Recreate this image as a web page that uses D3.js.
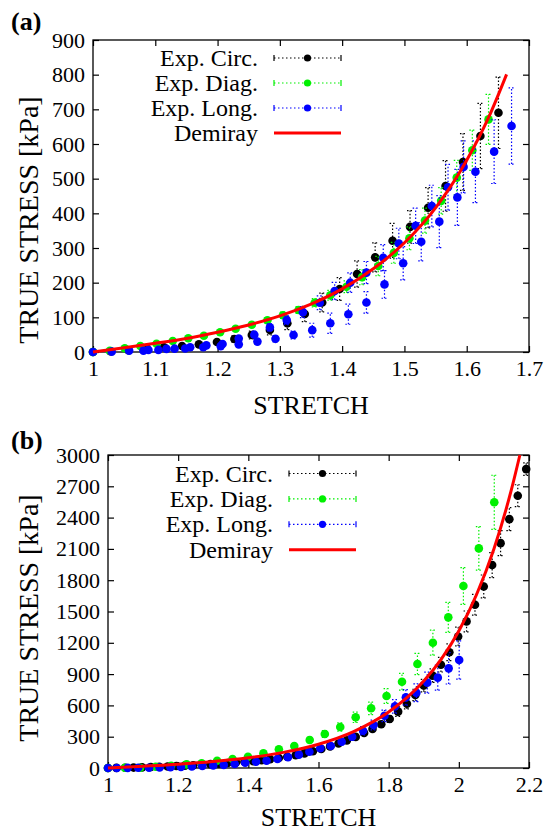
<!DOCTYPE html>
<html>
<head>
<meta charset="utf-8">
<script src="https://cdn.jsdelivr.net/npm/d3@7"></script>
<style>
  body { margin: 0; background: #fff; }
  text { font-family: "Liberation Serif", "Times New Roman", "DejaVu Serif", serif; }
</style>
</head>
<body>
<svg id="chart" width="546" height="832"></svg>
<script>
// ---- data: [stretch, stress kPa, error kPa] ----
const seriesNames = ["Exp. Circ.", "Exp. Diag.", "Exp. Long.", "Demiray"];
const seriesColors = ["#000000", "#00f000", "#0000ff", "#ff0000"];

// panel (a)
const circA = [[1.000,0,1],[1.028,2,1],[1.057,5,2],[1.086,10.7,3],[1.114,13.5,4],[1.143,17.3,5],
  [1.170,22,6],[1.199,29,7],[1.227,37.5,9],[1.255,49,11],[1.284,63.5,14],[1.312,82.7,18],
  [1.340,109.6,22],[1.368,143,27],[1.396,181.7,33],[1.424,225,38],[1.453,273,42],[1.481,321,50],
  [1.509,361,47],[1.538,416,58],[1.566,479,73],[1.594,548,82],[1.622,623,94],[1.651,690,103]];
const diagA = [[1.000,0,0],[1.027,3.7,1],[1.051,10.7,1],[1.076,17.3,2],[1.102,24,2],[1.128,31.7,3],
  [1.153,39.5,4],[1.178,47,5],[1.204,56.8,5],[1.229,67.2,6],[1.255,78.7,7],[1.280,91.4,8],
  [1.305,105.9,9],[1.330,121,10],[1.356,142,12],[1.381,163.5,14],[1.407,188,17],[1.432,216,22],
  [1.458,248,28],[1.483,286,30],[1.508,328,33],[1.533,379,36],[1.559,436,38],[1.584,503,50],
  [1.609,582,58],[1.635,671,72]];
const longA = [[1.000,0,1],[1.030,1,1],[1.058,4,2],[1.089,6,2],[1.118,9,3],[1.148,10,3],
  [1.177,13.5,4],[1.205,17,5],[1.234,22,6],[1.264,30,7],[1.293,38,9],[1.322,49,11],
  [1.352,63,20],[1.381,83,29],[1.410,109,29],[1.439,143,31],[1.468,195,40],[1.498,256,48],
  [1.527,318,55],[1.556,376,75],[1.585,446,81],[1.614,520,89],[1.644,578,92],[1.672,652,110],
  [1.081,4,1],[1.105,6,2],[1.131,9.6,2],[1.156,13.5,3],[1.182,19,4],[1.208,23,5],
  [1.234,39,6],[1.259,50,8],[1.284,71,10],[1.311,92,13],[1.337,115,16],[1.364,142,20],
  [1.388,176,25],[1.413,200,28],[1.439,229,32],[1.466,272,38],[1.491,313,44],[1.518,364,51],
  [1.544,421,60],[1.570,475,66],[1.595,534,75]];
const demirayA = [[1.0,0],[1.05,12],[1.1,25],[1.15,39],[1.2,57],[1.25,78],[1.3,104],[1.35,138],
  [1.4,182],[1.45,240],[1.5,315],[1.55,416],[1.6,553],[1.635,676],[1.664,801]];

// panel (b)
const circB = [[1.000,0,1],[1.024,1,1],[1.049,2,1],[1.073,4,1],[1.097,6,2],[1.122,9,2],
  [1.146,12,2],[1.170,15,2],[1.195,19,3],[1.219,23,3],[1.243,27,3],[1.268,32,4],[1.292,37,4],
  [1.316,42,4],[1.341,48,5],[1.365,54,5],[1.389,60,5],[1.414,66,6],[1.438,75,6],[1.462,85,7],
  [1.487,96,8],[1.511,108,8],[1.535,122,9],[1.560,140,10],[1.584,160,11],[1.608,182,12],
  [1.633,207,13],[1.657,235,15],[1.681,265,16],[1.706,298,18],[1.730,335,20],[1.754,375,22],
  [1.779,420,26],[1.803,470,32],[1.827,540,45],[1.852,616,50],[1.876,700,55],[1.900,790,60],
  [1.925,885,65],[1.949,990,70],[1.973,1110,80],[1.998,1260,90],[2.022,1405,100],[2.046,1565,100],
  [2.071,1740,110],[2.095,1945,120],[2.119,2155,120],[2.144,2385,110],[2.168,2610,105],[2.192,2865,60]];
const diagB = [[1.000,0,0],[1.048,2,1],[1.092,3,1],[1.136,12,2],[1.180,22,3],[1.224,35,4],
  [1.267,45,5],[1.311,70,7],[1.355,86,9],[1.399,108,11],[1.443,141,14],[1.487,179,18],
  [1.531,211,21],[1.575,268,26],[1.618,326,32],[1.662,393,40],[1.706,486,50],[1.750,572,60],
  [1.794,690,70],[1.838,827,80],[1.882,997,102],[1.926,1201,120],[1.970,1444,144],
  [2.013,1745,176],[2.057,2105,208],[2.101,2547,259]];
const longB = [[1.000,0,0],[1.025,0,1],[1.056,1,1],[1.086,2,1],[1.117,3,1],[1.147,5,1],
  [1.178,7,2],[1.208,10,2],[1.239,14,2],[1.269,19,3],[1.300,24,3],[1.330,29,4],[1.361,38,5],
  [1.391,51,6],[1.422,60,7],[1.452,70,8],[1.483,86,10],[1.513,103,12],[1.544,128,14],
  [1.574,156,16],[1.605,189,20],[1.635,211,24],[1.666,252,28],[1.696,300,34],[1.727,357,40],
  [1.757,412,46],[1.788,500,55],[1.818,591,65],[1.849,677,75],[1.879,722,85],[1.910,818,100],
  [1.940,866,120],[1.971,955,150],[2.001,1035,184]];
const demirayB = [[1,0],[1.1,17],[1.2,36],[1.3,62],[1.4,98],[1.5,150],[1.6,228],[1.7,349],
  [1.8,536],[1.9,833],[1.95,1044],[2.0,1313],[2.05,1658],[2.1,2099],[2.15,2670],[2.174,3000]];

const xTicksA = [1, 1.1, 1.2, 1.3, 1.4, 1.5, 1.6, 1.7];
const yTicksA = [0, 100, 200, 300, 400, 500, 600, 700, 800, 900];
const xTicksB = [1, 1.2, 1.4, 1.6, 1.8, 2, 2.2];
const yTicksB = [0, 300, 600, 900, 1200, 1500, 1800, 2100, 2400, 2700, 3000];

const svg = d3.select("#chart");

function panel(p) {
  const g = svg.append("g");
  const x = d3.scaleLinear().domain(p.xDomain).range([p.left, p.right]);
  const y = d3.scaleLinear().domain(p.yDomain).range([p.bottom, p.top]);

  const styleAxis = a => {
    a.select(".domain").remove();
    a.attr("font-family", null);
    a.selectAll("line").attr("stroke", "#000").attr("stroke-width", 1.2);
    a.selectAll("text").attr("font-size", 22).attr("fill", "#000");
  };

  g.append("g").attr("transform", `translate(0,${p.bottom})`)
    .call(d3.axisBottom(x).tickValues(p.xTicks).tickSizeInner(-6).tickSizeOuter(0).tickPadding(8).tickFormat(d => d))
    .call(styleAxis);
  g.append("g").attr("transform", `translate(0,${p.top})`)
    .call(d3.axisTop(x).tickValues(p.xTicks).tickSizeInner(-6).tickSizeOuter(0).tickFormat(""))
    .call(styleAxis);
  g.append("g").attr("transform", `translate(${p.left},0)`)
    .call(d3.axisLeft(y).tickValues(p.yTicks).tickSizeInner(-6).tickSizeOuter(0).tickPadding(8).tickFormat(d => d))
    .call(styleAxis);
  g.append("g").attr("transform", `translate(${p.right},0)`)
    .call(d3.axisRight(y).tickValues(p.yTicks).tickSizeInner(-6).tickSizeOuter(0).tickFormat(""))
    .call(styleAxis);

  g.append("rect")
    .attr("x", p.left).attr("y", p.top)
    .attr("width", p.right - p.left).attr("height", p.bottom - p.top)
    .attr("fill", "none").attr("stroke", "#000").attr("stroke-width", 1.3);

  // experimental series with error bars
  p.series.forEach((data, i) => {
    const c = seriesColors[i];
    const eb = g.append("g").attr("stroke", c).attr("stroke-width", 1.2).attr("stroke-dasharray", "1.5,2");
    data.forEach(d => {
      const px = x(d[0]), y0 = y(d[1] - d[2]), y1 = y(d[1] + d[2]);
      eb.append("line").attr("x1", px).attr("x2", px).attr("y1", y0).attr("y2", y1);
      eb.append("line").attr("x1", px - 3).attr("x2", px + 3).attr("y1", y0).attr("y2", y0);
      eb.append("line").attr("x1", px - 3).attr("x2", px + 3).attr("y1", y1).attr("y2", y1);
    });
    g.append("g").selectAll("circle").data(data).join("circle")
      .attr("cx", d => x(d[0])).attr("cy", d => y(d[1])).attr("r", 4.3).attr("fill", c);
  });

  const line = d3.line().x(d => x(d[0])).y(d => y(d[1])).curve(d3.curveMonotoneX);
  g.append("path").datum(p.model).attr("d", line)
    .attr("fill", "none").attr("stroke", seriesColors[3]).attr("stroke-width", 3);

  // legend
  const L = p.legend;
  seriesNames.forEach((name, i) => {
    const yy = L.y + i * L.dy;
    g.append("text").attr("x", L.textX).attr("y", yy + 8).attr("text-anchor", "end")
      .attr("font-size", 24).text(name);
    const c = seriesColors[i];
    if (i < 3) {
      g.append("line").attr("x1", L.x0).attr("x2", L.x1).attr("y1", yy).attr("y2", yy)
        .attr("stroke", c).attr("stroke-width", 1.2).attr("stroke-dasharray", "1.5,2.5");
      [L.x0, L.x1].forEach(xe => g.append("line").attr("x1", xe).attr("x2", xe)
        .attr("y1", yy - 3).attr("y2", yy + 3).attr("stroke", c).attr("stroke-width", 1.2));
      g.append("circle").attr("cx", (L.x0 + L.x1) / 2).attr("cy", yy).attr("r", 3.6).attr("fill", c);
    } else {
      g.append("line").attr("x1", L.x0).attr("x2", L.x1).attr("y1", yy).attr("y2", yy)
        .attr("stroke", c).attr("stroke-width", 3);
    }
  });

  // labels
  g.append("text").attr("x", 11).attr("y", p.tagY).attr("font-size", 26).attr("font-weight", "bold").text(p.tag);
  g.append("text").attr("transform", `translate(38,${p.yLabelY}) rotate(-90)`)
    .attr("text-anchor", "middle").attr("font-size", 28).text("TRUE STRESS [kPa]");
  g.append("text").attr("x", (p.left + p.right) / 2).attr("y", p.xLabelY)
    .attr("text-anchor", "middle").attr("font-size", 26).text("STRETCH");
}

panel({
  tag: "(a)", tagY: 30,
  left: 93, right: 529, top: 40, bottom: 352,
  xDomain: [1, 1.7], yDomain: [0, 900], xTicks: xTicksA, yTicks: yTicksA,
  series: [circA, diagA, longA], model: demirayA,
  legend: { textX: 258, x0: 274, x1: 341, y: 58, dy: 25 },
  yLabelY: 220, xLabelY: 414
});

panel({
  tag: "(b)", tagY: 449,
  left: 108, right: 529, top: 455, bottom: 768,
  xDomain: [1, 2.2], yDomain: [0, 3000], xTicks: xTicksB, yTicks: yTicksB,
  series: [circB, diagB, longB], model: demirayB,
  legend: { textX: 273, x0: 289, x1: 356, y: 473.5, dy: 25.4 },
  yLabelY: 618, xLabelY: 826
});
</script>
</body>
</html>
